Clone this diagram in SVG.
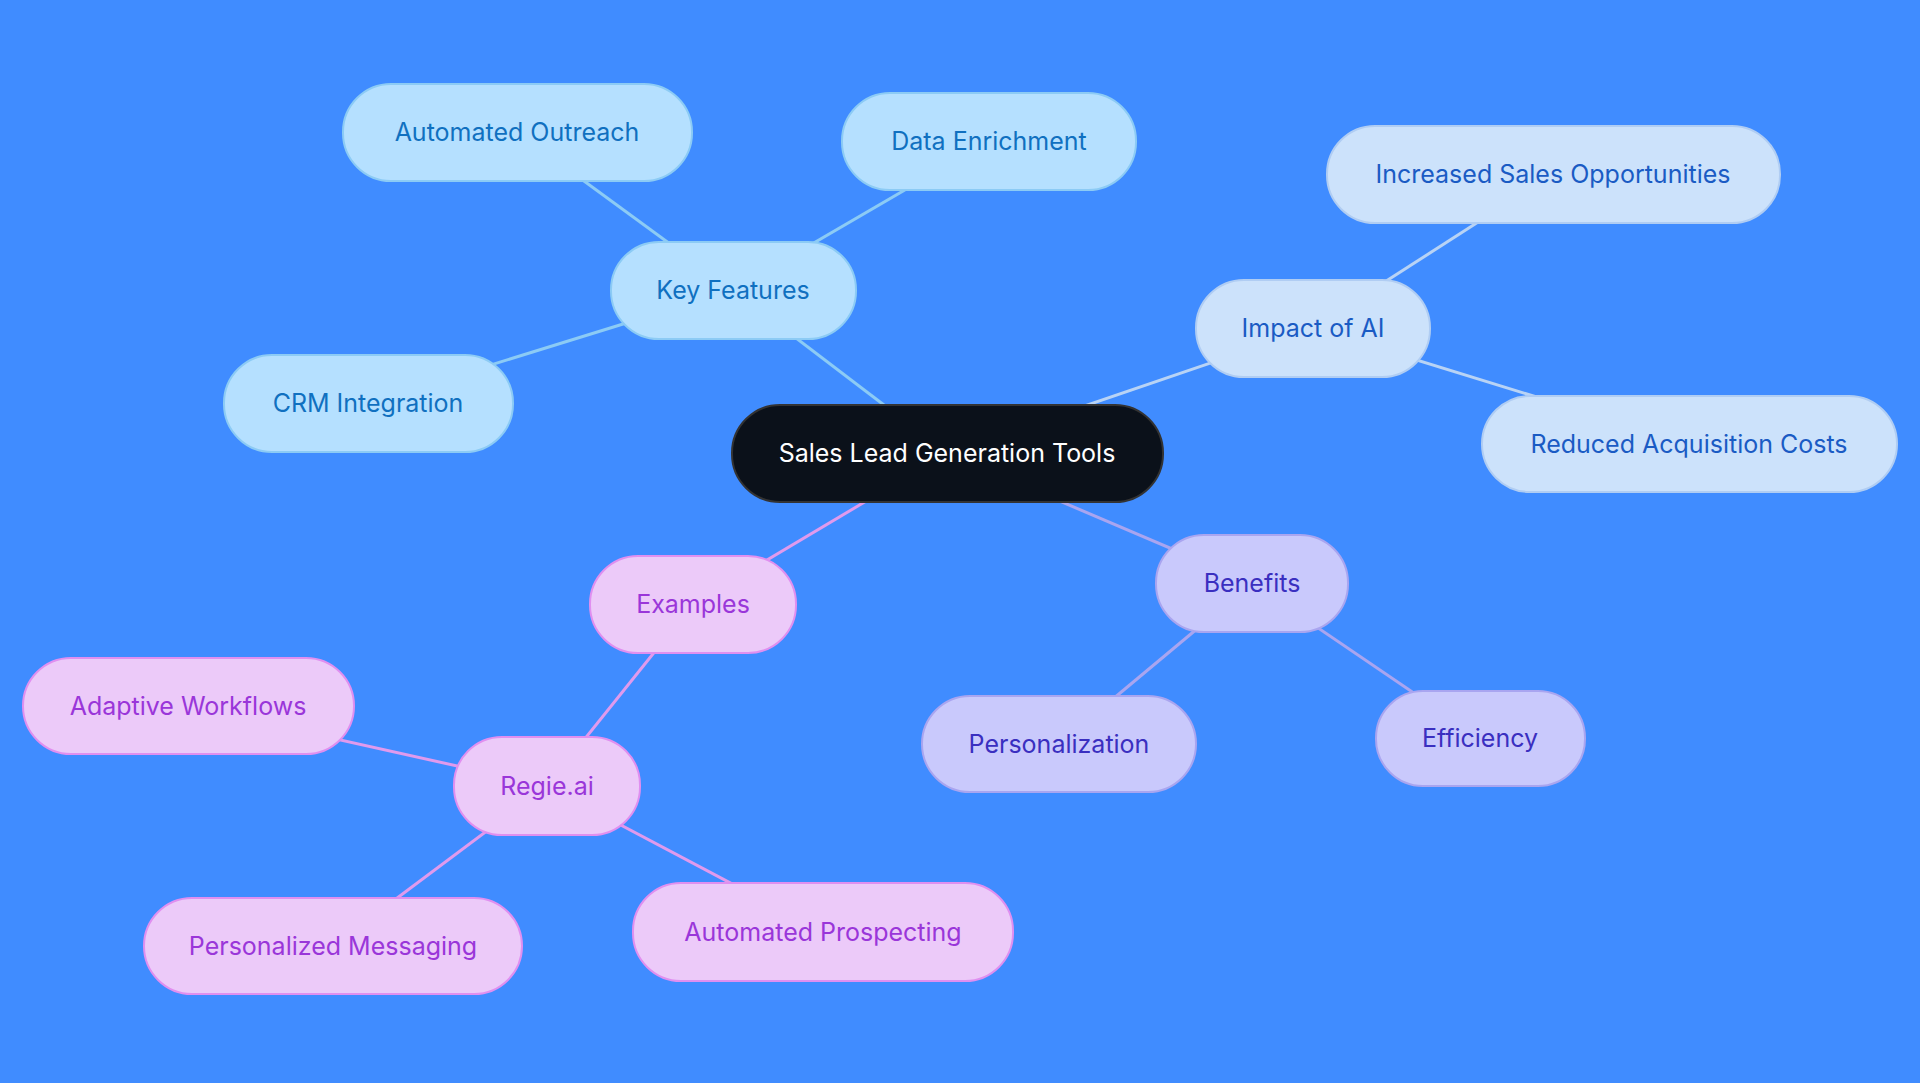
<svg xmlns="http://www.w3.org/2000/svg" width="1920" height="1083" viewBox="0 0 1920 1083">
<style>
text{font-family:Inter,"Noto Sans",sans-serif;font-size:25px;text-anchor:middle;dominant-baseline:central}
.b rect{fill:#b5e0ff;stroke:#8ccbf5;stroke-width:2}.b text{fill:#1070c0}
.i rect{fill:#cce2fb;stroke:#b0cdf3;stroke-width:2}.i text{fill:#1a5bc4}
.n rect{fill:#c9c9fc;stroke:#a9a5f0;stroke-width:2}.n text{fill:#3a2fc0}
.e rect{fill:#eccaf9;stroke:#e08ff0;stroke-width:2}.e text{fill:#9a36d9}
#edges line{stroke-width:3}
</style>
<rect width="1920" height="1083" fill="#408cff"/>
<g id="edges">
<line x1="947" y1="453" x2="733" y2="290" stroke="#8ccbf5"/>
<line x1="733" y1="290" x2="517" y2="132" stroke="#8ccbf5"/>
<line x1="733" y1="290" x2="989" y2="141" stroke="#8ccbf5"/>
<line x1="733" y1="290" x2="368" y2="403" stroke="#8ccbf5"/>
<line x1="947" y1="453" x2="1313" y2="328" stroke="#b8d3f5"/>
<line x1="1313" y1="328" x2="1553" y2="174" stroke="#b8d3f5"/>
<line x1="1313" y1="328" x2="1689" y2="444" stroke="#b8d3f5"/>
<line x1="947" y1="453" x2="1252" y2="583" stroke="#a9a5f0"/>
<line x1="1252" y1="583" x2="1059" y2="744" stroke="#a9a5f0"/>
<line x1="1252" y1="583" x2="1480" y2="738" stroke="#a9a5f0"/>
<line x1="947" y1="453" x2="693" y2="604" stroke="#e09aed"/>
<line x1="693" y1="604" x2="547" y2="786" stroke="#e09aed"/>
<line x1="547" y1="786" x2="188" y2="706" stroke="#e09aed"/>
<line x1="547" y1="786" x2="333" y2="946" stroke="#e09aed"/>
<line x1="547" y1="786" x2="823" y2="932" stroke="#e09aed"/>
</g>
<g id="center"><rect x="732" y="405" width="431" height="97" rx="48" fill="#0b111a" stroke="#333" stroke-width="2"/><text x="947" y="453" fill="#fff">Sales Lead Generation Tools</text></g>
<g id="kf" class="b"><rect x="611" y="242" width="245" height="97" rx="48"/><text x="733" y="290">Key Features</text></g>
<g id="ao" class="b"><rect x="343" y="84" width="349" height="97" rx="48"/><text x="517" y="132">Automated Outreach</text></g>
<g id="de" class="b"><rect x="842" y="93" width="294" height="97" rx="48"/><text x="989" y="141">Data Enrichment</text></g>
<g id="crm" class="b"><rect x="224" y="355" width="289" height="97" rx="48"/><text x="368" y="403">CRM Integration</text></g>
<g id="ai" class="i"><rect x="1196" y="280" width="234" height="97" rx="48"/><text x="1313" y="328">Impact of AI</text></g>
<g id="iso" class="i"><rect x="1327" y="126" width="453" height="97" rx="48"/><text x="1553" y="174">Increased Sales Opportunities</text></g>
<g id="rac" class="i"><rect x="1482" y="396" width="415" height="96" rx="48"/><text x="1689" y="444">Reduced Acquisition Costs</text></g>
<g id="ben" class="n"><rect x="1156" y="535" width="192" height="97" rx="48"/><text x="1252" y="583">Benefits</text></g>
<g id="per" class="n"><rect x="922" y="696" width="274" height="96" rx="48"/><text x="1059" y="744">Personalization</text></g>
<g id="eff" class="n"><rect x="1376" y="691" width="209" height="95" rx="47"/><text x="1480" y="738">Efficiency</text></g>
<g id="ex" class="e"><rect x="590" y="556" width="206" height="97" rx="48"/><text x="693" y="604">Examples</text></g>
<g id="regie" class="e"><rect x="454" y="737" width="186" height="98" rx="48"/><text x="547" y="786">Regie.ai</text></g>
<g id="aw" class="e"><rect x="23" y="658" width="331" height="96" rx="48"/><text x="188" y="706">Adaptive Workflows</text></g>
<g id="pm" class="e"><rect x="144" y="898" width="378" height="96" rx="48"/><text x="333" y="946">Personalized Messaging</text></g>
<g id="ap" class="e"><rect x="633" y="883" width="380" height="98" rx="48"/><text x="823" y="932">Automated Prospecting</text></g>
</svg>
